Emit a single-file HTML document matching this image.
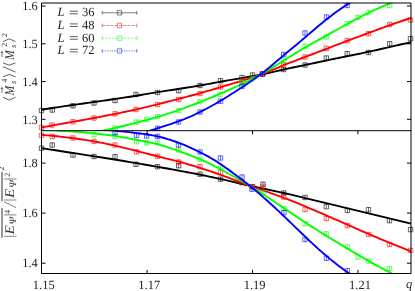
<!DOCTYPE html>
<html><head><meta charset="utf-8"><title>Binder cumulant crossing</title>
<style>html,body{margin:0;padding:0;background:#fff;}body{width:415px;height:291px;overflow:hidden;font-family:"Liberation Serif",serif;}svg{display:block}</style>
</head><body>
<svg width="415" height="291" viewBox="0 0 415 291" style="display:block">
<defs>
<clipPath id="ct"><rect x="41.5" y="3.0" width="369.5" height="127.69999999999999"/></clipPath>
<clipPath id="cb"><rect x="41.5" y="130.7" width="369.5" height="142.8"/></clipPath>
</defs>
<rect width="415" height="291" fill="#fff"/>
<g fill="none" stroke-width="1.9" stroke-linejoin="round">
<path d="M39.3,108.3h4.4v4.4h-4.4zM41.5,108.3v4.4M50.1,107.8h4.4v4.4h-4.4zM52.3,107.8v4.4M70.8,103.6h4.4v4.4h-4.4zM73.0,103.6v4.4M91.8,100.8h4.4v4.4h-4.4zM94.0,100.8v4.4M112.8,98.3h4.4v4.4h-4.4zM115.0,98.3v4.4M133.8,92.3h4.4v4.4h-4.4zM136.0,92.3v4.4M155.3,90.3h4.4v4.4h-4.4zM157.5,90.3v4.4M176.5,88.5h4.4v4.4h-4.4zM178.7,88.5v4.4M197.8,83.3h4.4v4.4h-4.4zM200.0,83.3v4.4M218.3,78.5h4.4v4.4h-4.4zM220.5,78.5v4.4M239.8,75.3h4.4v4.4h-4.4zM242.0,75.3v4.4M250.3,72.8h4.4v4.4h-4.4zM252.5,72.8v4.4M260.3,71.8h4.4v4.4h-4.4zM262.5,71.8v4.4M281.5,67.3h4.4v4.4h-4.4zM283.7,67.3v4.4M302.8,62.8h4.4v4.4h-4.4zM305.0,62.8v4.4M324.1,55.8h4.4v4.4h-4.4zM326.3,55.8v4.4M345.0,51.5h4.4v4.4h-4.4zM347.2,51.5v4.4M366.3,50.3h4.4v4.4h-4.4zM368.5,50.3v4.4M387.5,41.5h4.4v4.4h-4.4zM389.7,41.5v4.4M408.3,36.5h4.4v4.4h-4.4zM410.5,36.5v4.4" stroke="#000" stroke-width="0.6"/>
<path d="M39.3,146.0h4.4v4.4h-4.4zM41.5,146.0v4.4M50.0,142.8h4.4v4.4h-4.4zM52.2,142.8v4.4M70.8,152.8h4.4v4.4h-4.4zM73.0,152.8v4.4M91.8,154.3h4.4v4.4h-4.4zM94.0,154.3v4.4M112.8,154.5h4.4v4.4h-4.4zM115.0,154.5v4.4M133.8,162.0h4.4v4.4h-4.4zM136.0,162.0v4.4M155.3,164.5h4.4v4.4h-4.4zM157.5,164.5v4.4M176.5,163.5h4.4v4.4h-4.4zM178.7,163.5v4.4M197.8,172.0h4.4v4.4h-4.4zM200.0,172.0v4.4M218.3,177.0h4.4v4.4h-4.4zM220.5,177.0v4.4M239.8,180.3h4.4v4.4h-4.4zM242.0,180.3v4.4M250.3,184.5h4.4v4.4h-4.4zM252.5,184.5v4.4M260.8,182.0h4.4v4.4h-4.4zM263.0,182.0v4.4M281.5,190.8h4.4v4.4h-4.4zM283.7,190.8v4.4M302.8,195.3h4.4v4.4h-4.4zM305.0,195.3v4.4M324.1,204.5h4.4v4.4h-4.4zM326.3,204.5v4.4M345.2,208.3h4.4v4.4h-4.4zM347.4,208.3v4.4M366.3,207.5h4.4v4.4h-4.4zM368.5,207.5v4.4M387.3,218.5h4.4v4.4h-4.4zM389.5,218.5v4.4M408.4,227.4h4.4v4.4h-4.4zM410.6,227.4v4.4" stroke="#000" stroke-width="0.6"/>
<path d="M41.5,109.80 L44.6,109.29 L47.7,108.78 L50.8,108.29 L53.9,107.80 L57.0,107.33 L60.1,106.86 L63.2,106.39 L66.3,105.93 L69.4,105.48 L72.6,105.03 L75.7,104.59 L78.8,104.15 L81.9,103.71 L85.0,103.27 L88.1,102.83 L91.2,102.40 L94.3,101.96 L97.4,101.52 L100.5,101.08 L103.6,100.64 L106.7,100.20 L109.8,99.75 L112.9,99.30 L116.0,98.84 L119.1,98.38 L122.2,97.91 L125.3,97.43 L128.4,96.95 L131.5,96.45 L134.7,95.95 L137.8,95.45 L140.9,94.94 L144.0,94.42 L147.1,93.91 L150.2,93.40 L153.3,92.89 L156.4,92.38 L159.5,91.88 L162.6,91.39 L165.7,90.90 L168.8,90.42 L171.9,89.94 L175.0,89.46 L178.1,88.99 L181.2,88.51 L184.3,88.04 L187.4,87.56 L190.5,87.07 L193.6,86.57 L196.8,86.06 L199.9,85.52 L203.0,84.97 L206.1,84.41 L209.2,83.83 L212.3,83.25 L215.4,82.66 L218.5,82.08 L221.6,81.51 L224.7,80.95 L227.8,80.41 L230.9,79.88 L234.0,79.37 L237.1,78.86 L240.2,78.34 L243.3,77.83 L246.4,77.31 L249.5,76.77 L252.6,76.21 L255.7,75.64 L258.9,75.03 L262.0,74.40 L265.1,73.73 L268.2,73.04 L271.3,72.34 L274.4,71.63 L277.5,70.91 L280.6,70.20 L283.7,69.50 L286.8,68.82 L289.9,68.15 L293.0,67.49 L296.1,66.84 L299.2,66.20 L302.3,65.56 L305.4,64.91 L308.5,64.26 L311.6,63.61 L314.7,62.95 L317.8,62.29 L321.0,61.63 L324.1,60.98 L327.2,60.32 L330.3,59.67 L333.4,59.03 L336.5,58.39 L339.6,57.75 L342.7,57.12 L345.8,56.49 L348.9,55.86 L352.0,55.23 L355.1,54.60 L358.2,53.96 L361.3,53.32 L364.4,52.67 L367.5,52.01 L370.6,51.33 L373.7,50.65 L376.8,49.95 L379.9,49.24 L383.1,48.53 L386.2,47.81 L389.3,47.10 L392.4,46.39 L395.5,45.68 L398.6,44.98 L401.7,44.29 L404.8,43.61 L407.9,42.95 L411.0,42.30" stroke="#000" clip-path="url(#ct)"/>
<path d="M41.5,148.20 L44.6,148.65 L47.7,149.11 L50.8,149.58 L53.9,150.05 L57.0,150.52 L60.1,151.00 L63.2,151.48 L66.3,151.96 L69.4,152.44 L72.6,152.93 L75.7,153.42 L78.8,153.91 L81.9,154.39 L85.0,154.88 L88.1,155.37 L91.2,155.86 L94.3,156.34 L97.4,156.83 L100.5,157.31 L103.6,157.80 L106.7,158.28 L109.8,158.77 L112.9,159.27 L116.0,159.77 L119.1,160.27 L122.2,160.78 L125.3,161.30 L128.4,161.82 L131.5,162.34 L134.7,162.87 L137.8,163.40 L140.9,163.93 L144.0,164.46 L147.1,164.99 L150.2,165.53 L153.3,166.07 L156.4,166.61 L159.5,167.15 L162.6,167.69 L165.7,168.24 L168.8,168.80 L171.9,169.36 L175.0,169.92 L178.1,170.49 L181.2,171.07 L184.3,171.65 L187.4,172.24 L190.5,172.84 L193.6,173.44 L196.8,174.05 L199.9,174.67 L203.0,175.30 L206.1,175.93 L209.2,176.57 L212.3,177.22 L215.4,177.88 L218.5,178.56 L221.6,179.24 L224.7,179.94 L227.8,180.66 L230.9,181.37 L234.0,182.10 L237.1,182.82 L240.2,183.54 L243.3,184.26 L246.4,184.97 L249.5,185.66 L252.6,186.35 L255.7,187.02 L258.9,187.69 L262.0,188.35 L265.1,189.00 L268.2,189.66 L271.3,190.31 L274.4,190.97 L277.5,191.64 L280.6,192.31 L283.7,193.00 L286.8,193.70 L289.9,194.41 L293.0,195.14 L296.1,195.87 L299.2,196.61 L302.3,197.35 L305.4,198.10 L308.5,198.86 L311.6,199.61 L314.7,200.36 L317.8,201.12 L321.0,201.87 L324.1,202.63 L327.2,203.38 L330.3,204.14 L333.4,204.89 L336.5,205.64 L339.6,206.39 L342.7,207.14 L345.8,207.89 L348.9,208.64 L352.0,209.38 L355.1,210.13 L358.2,210.88 L361.3,211.62 L364.4,212.37 L367.5,213.12 L370.6,213.87 L373.7,214.62 L376.8,215.37 L379.9,216.13 L383.1,216.88 L386.2,217.64 L389.3,218.39 L392.4,219.15 L395.5,219.91 L398.6,220.67 L401.7,221.43 L404.8,222.18 L407.9,222.94 L411.0,223.70" stroke="#000" clip-path="url(#cb)"/>
<path d="M39.3,125.3h4.4v4.4h-4.4zM41.5,125.3v4.4M49.8,122.8h4.4v4.4h-4.4zM52.0,122.8v4.4M70.8,119.6h4.4v4.4h-4.4zM73.0,119.6v4.4M91.8,115.8h4.4v4.4h-4.4zM94.0,115.8v4.4M112.8,111.6h4.4v4.4h-4.4zM115.0,111.6v4.4M133.8,107.3h4.4v4.4h-4.4zM136.0,107.3v4.4M155.3,102.3h4.4v4.4h-4.4zM157.5,102.3v4.4M176.5,97.3h4.4v4.4h-4.4zM178.7,97.3v4.4M197.8,91.3h4.4v4.4h-4.4zM200.0,91.3v4.4M218.3,84.8h4.4v4.4h-4.4zM220.5,84.8v4.4M239.8,78.5h4.4v4.4h-4.4zM242.0,78.5v4.4M260.3,71.8h4.4v4.4h-4.4zM262.5,71.8v4.4M281.5,62.8h4.4v4.4h-4.4zM283.7,62.8v4.4M302.8,54.8h4.4v4.4h-4.4zM305.0,54.8v4.4M324.1,46.1h4.4v4.4h-4.4zM326.3,46.1v4.4M345.0,38.5h4.4v4.4h-4.4zM347.2,38.5v4.4M366.3,31.5h4.4v4.4h-4.4zM368.5,31.5v4.4M387.5,22.3h4.4v4.4h-4.4zM389.7,22.3v4.4M408.3,17.8h4.4v4.4h-4.4zM410.5,17.8v4.4" stroke="#f00" stroke-width="0.6"/>
<path d="M39.3,133.3h4.4v4.4h-4.4zM41.5,133.3v4.4M50.1,134.3h4.4v4.4h-4.4zM52.3,134.3v4.4M70.8,135.8h4.4v4.4h-4.4zM73.0,135.8v4.4M91.8,139.2h4.4v4.4h-4.4zM94.0,139.2v4.4M112.8,142.8h4.4v4.4h-4.4zM115.0,142.8v4.4M134.4,149.7h4.4v4.4h-4.4zM136.6,149.7v4.4M155.4,154.0h4.4v4.4h-4.4zM157.6,154.0v4.4M176.5,159.8h4.4v4.4h-4.4zM178.7,159.8v4.4M197.8,164.5h4.4v4.4h-4.4zM200.0,164.5v4.4M218.3,170.3h4.4v4.4h-4.4zM220.5,170.3v4.4M239.8,179.8h4.4v4.4h-4.4zM242.0,179.8v4.4M250.3,184.5h4.4v4.4h-4.4zM252.5,184.5v4.4M260.8,184.8h4.4v4.4h-4.4zM263.0,184.8v4.4M281.5,194.8h4.4v4.4h-4.4zM283.7,194.8v4.4M302.8,207.3h4.4v4.4h-4.4zM305.0,207.3v4.4M324.1,216.3h4.4v4.4h-4.4zM326.3,216.3v4.4M345.2,223.4h4.4v4.4h-4.4zM347.4,223.4v4.4M366.5,232.3h4.4v4.4h-4.4zM368.7,232.3v4.4M387.3,242.3h4.4v4.4h-4.4zM389.5,242.3v4.4M408.4,248.2h4.4v4.4h-4.4zM410.6,248.2v4.4" stroke="#f00" stroke-width="0.6"/>
<path d="M41.5,127.50 L44.6,126.91 L47.7,126.33 L50.8,125.76 L53.9,125.19 L57.0,124.63 L60.1,124.08 L63.2,123.53 L66.3,122.98 L69.4,122.43 L72.6,121.88 L75.7,121.33 L78.8,120.78 L81.9,120.22 L85.0,119.66 L88.1,119.10 L91.2,118.53 L94.3,117.95 L97.4,117.36 L100.5,116.76 L103.6,116.16 L106.7,115.55 L109.8,114.93 L112.9,114.32 L116.0,113.70 L119.1,113.07 L122.2,112.44 L125.3,111.80 L128.4,111.15 L131.5,110.48 L134.7,109.80 L137.8,109.10 L140.9,108.38 L144.0,107.64 L147.1,106.89 L150.2,106.13 L153.3,105.36 L156.4,104.58 L159.5,103.80 L162.6,103.02 L165.7,102.23 L168.8,101.44 L171.9,100.65 L175.0,99.85 L178.1,99.05 L181.2,98.25 L184.3,97.44 L187.4,96.62 L190.5,95.79 L193.6,94.96 L196.8,94.10 L199.9,93.24 L203.0,92.36 L206.1,91.46 L209.2,90.56 L212.3,89.64 L215.4,88.72 L218.5,87.80 L221.6,86.87 L224.7,85.95 L227.8,85.03 L230.9,84.10 L234.0,83.17 L237.1,82.23 L240.2,81.29 L243.3,80.34 L246.4,79.38 L249.5,78.39 L252.6,77.37 L255.7,76.32 L258.9,75.22 L262.0,74.07 L265.1,72.86 L268.2,71.62 L271.3,70.34 L274.4,69.05 L277.5,67.76 L280.6,66.47 L283.7,65.20 L286.8,63.96 L289.9,62.74 L293.0,61.54 L296.1,60.35 L299.2,59.18 L302.3,58.01 L305.4,56.84 L308.5,55.66 L311.6,54.49 L314.7,53.31 L317.8,52.12 L321.0,50.93 L324.1,49.74 L327.2,48.55 L330.3,47.36 L333.4,46.17 L336.5,44.98 L339.6,43.79 L342.7,42.61 L345.8,41.43 L348.9,40.26 L352.0,39.10 L355.1,37.95 L358.2,36.80 L361.3,35.65 L364.4,34.51 L367.5,33.36 L370.6,32.21 L373.7,31.06 L376.8,29.91 L379.9,28.76 L383.1,27.61 L386.2,26.48 L389.3,25.36 L392.4,24.25 L395.5,23.15 L398.6,22.07 L401.7,21.02 L404.8,19.99 L407.9,18.98 L411.0,18.00" stroke="#f00" clip-path="url(#ct)"/>
<path d="M41.5,134.80 L44.6,135.08 L47.7,135.37 L50.8,135.67 L53.9,135.98 L57.0,136.30 L60.1,136.64 L63.2,136.99 L66.3,137.36 L69.4,137.74 L72.6,138.14 L75.7,138.56 L78.8,138.99 L81.9,139.44 L85.0,139.91 L88.1,140.41 L91.2,140.92 L94.3,141.45 L97.4,142.00 L100.5,142.58 L103.6,143.18 L106.7,143.81 L109.8,144.46 L112.9,145.13 L116.0,145.83 L119.1,146.56 L122.2,147.31 L125.3,148.08 L128.4,148.86 L131.5,149.65 L134.7,150.45 L137.8,151.25 L140.9,152.06 L144.0,152.86 L147.1,153.66 L150.2,154.46 L153.3,155.25 L156.4,156.02 L159.5,156.79 L162.6,157.55 L165.7,158.31 L168.8,159.07 L171.9,159.84 L175.0,160.63 L178.1,161.45 L181.2,162.29 L184.3,163.16 L187.4,164.05 L190.5,164.97 L193.6,165.92 L196.8,166.88 L199.9,167.85 L203.0,168.85 L206.1,169.86 L209.2,170.88 L212.3,171.93 L215.4,172.99 L218.5,174.08 L221.6,175.19 L224.7,176.33 L227.8,177.48 L230.9,178.64 L234.0,179.82 L237.1,180.99 L240.2,182.17 L243.3,183.34 L246.4,184.50 L249.5,185.64 L252.6,186.76 L255.7,187.87 L258.9,188.97 L262.0,190.05 L265.1,191.14 L268.2,192.22 L271.3,193.31 L274.4,194.41 L277.5,195.52 L280.6,196.65 L283.7,197.80 L286.8,198.97 L289.9,200.18 L293.0,201.40 L296.1,202.64 L299.2,203.91 L302.3,205.19 L305.4,206.48 L308.5,207.79 L311.6,209.11 L314.7,210.43 L317.8,211.77 L321.0,213.11 L324.1,214.46 L327.2,215.81 L330.3,217.16 L333.4,218.51 L336.5,219.87 L339.6,221.22 L342.7,222.58 L345.8,223.95 L348.9,225.32 L352.0,226.69 L355.1,228.06 L358.2,229.43 L361.3,230.79 L364.4,232.15 L367.5,233.49 L370.6,234.83 L373.7,236.16 L376.8,237.47 L379.9,238.77 L383.1,240.07 L386.2,241.35 L389.3,242.62 L392.4,243.89 L395.5,245.14 L398.6,246.39 L401.7,247.63 L404.8,248.86 L407.9,250.08 L411.0,251.30" stroke="#f00" clip-path="url(#cb)"/>
<path d="M112.8,125.8h4.4v4.4h-4.4zM115.0,125.8v4.4M134.4,120.0h4.4v4.4h-4.4zM136.6,120.0v4.4M144.5,117.1h4.4v4.4h-4.4zM146.7,117.1v4.4M155.4,114.5h4.4v4.4h-4.4zM157.6,114.5v4.4M176.5,108.3h4.4v4.4h-4.4zM178.7,108.3v4.4M197.8,99.5h4.4v4.4h-4.4zM200.0,99.5v4.4M217.8,92.3h4.4v4.4h-4.4zM220.0,92.3v4.4M239.8,80.3h4.4v4.4h-4.4zM242.0,80.3v4.4M249.8,76.8h4.4v4.4h-4.4zM252.0,76.8v4.4M281.5,58.3h4.4v4.4h-4.4zM283.7,58.3v4.4M302.8,44.0h4.4v4.4h-4.4zM305.0,44.0v4.4M324.2,34.8h4.4v4.4h-4.4zM326.4,34.8v4.4M345.0,21.5h4.4v4.4h-4.4zM347.2,21.5v4.4M355.8,15.3h4.4v4.4h-4.4zM358.0,15.3v4.4M366.3,10.3h4.4v4.4h-4.4zM368.5,10.3v4.4M387.5,3.3h4.4v4.4h-4.4zM389.7,3.3v4.4" stroke="#0f0" stroke-width="0.6"/>
<path d="M91.8,132.4h4.4v4.4h-4.4zM94.0,132.4v4.4M112.8,134.2h4.4v4.4h-4.4zM115.0,134.2v4.4M134.4,139.5h4.4v4.4h-4.4zM136.6,139.5v4.4M144.5,140.6h4.4v4.4h-4.4zM146.7,140.6v4.4M155.4,140.3h4.4v4.4h-4.4zM157.6,140.3v4.4M176.5,147.8h4.4v4.4h-4.4zM178.7,147.8v4.4M197.8,156.8h4.4v4.4h-4.4zM200.0,156.8v4.4M218.3,166.0h4.4v4.4h-4.4zM220.5,166.0v4.4M260.8,190.8h4.4v4.4h-4.4zM263.0,190.8v4.4M281.7,206.2h4.4v4.4h-4.4zM283.9,206.2v4.4M302.8,221.5h4.4v4.4h-4.4zM305.0,221.5v4.4M324.1,231.6h4.4v4.4h-4.4zM326.3,231.6v4.4M345.2,244.8h4.4v4.4h-4.4zM347.4,244.8v4.4M355.8,254.8h4.4v4.4h-4.4zM358.0,254.8v4.4M366.5,258.8h4.4v4.4h-4.4zM368.7,258.8v4.4M387.3,266.4h4.4v4.4h-4.4zM389.5,266.4v4.4" stroke="#0f0" stroke-width="0.6"/>
<path d="M41.5,136.50 L44.6,136.38 L47.7,136.24 L50.8,136.06 L53.9,135.87 L57.0,135.64 L60.1,135.40 L63.2,135.14 L66.3,134.86 L69.4,134.56 L72.6,134.25 L75.7,133.92 L78.8,133.58 L81.9,133.23 L85.0,132.87 L88.1,132.51 L91.2,132.14 L94.3,131.77 L97.4,131.38 L100.5,130.96 L103.6,130.47 L106.7,129.88 L109.8,129.22 L112.9,128.50 L116.0,127.75 L119.1,127.01 L122.2,126.25 L125.3,125.49 L128.4,124.72 L131.5,123.94 L134.7,123.15 L137.8,122.34 L140.9,121.53 L144.0,120.70 L147.1,119.86 L150.2,119.00 L153.3,118.12 L156.4,117.23 L159.5,116.31 L162.6,115.37 L165.7,114.41 L168.8,113.43 L171.9,112.42 L175.0,111.38 L178.1,110.30 L181.2,109.20 L184.3,108.06 L187.4,106.90 L190.5,105.71 L193.6,104.51 L196.8,103.29 L199.9,102.06 L203.0,100.82 L206.1,99.57 L209.2,98.31 L212.3,97.04 L215.4,95.75 L218.5,94.45 L221.6,93.13 L224.7,91.80 L227.8,90.44 L230.9,89.07 L234.0,87.67 L237.1,86.25 L240.2,84.80 L243.3,83.33 L246.4,81.83 L249.5,80.29 L252.6,78.72 L255.7,77.10 L258.9,75.43 L262.0,73.71 L265.1,71.93 L268.2,70.11 L271.3,68.26 L274.4,66.37 L277.5,64.46 L280.6,62.54 L283.7,60.60 L286.8,58.67 L289.9,56.74 L293.0,54.82 L296.1,52.92 L299.2,51.04 L302.3,49.18 L305.4,47.35 L308.5,45.56 L311.6,43.79 L314.7,42.04 L317.8,40.31 L321.0,38.59 L324.1,36.88 L327.2,35.15 L330.3,33.42 L333.4,31.69 L336.5,29.96 L339.6,28.23 L342.7,26.50 L345.8,24.78 L348.9,23.07 L352.0,21.37 L355.1,19.69 L358.2,18.04 L361.3,16.41 L364.4,14.82 L367.5,13.28 L370.6,11.77 L373.7,10.31 L376.8,8.90 L379.9,7.53 L383.1,6.20 L386.2,4.92 L389.3,3.67 L392.4,2.47 L395.5,1.30 L398.6,0.17 L401.7,-0.93 L404.8,-1.98 L407.9,-3.01 L411.0,-4.00" stroke="#0f0" clip-path="url(#ct)"/>
<path d="M41.5,129.50 L44.6,129.73 L47.7,129.94 L50.8,130.15 L53.9,130.35 L57.0,130.55 L60.1,130.75 L63.2,130.94 L66.3,131.14 L69.4,131.35 L72.6,131.57 L75.7,131.80 L78.8,132.04 L81.9,132.29 L85.0,132.55 L88.1,132.83 L91.2,133.12 L94.3,133.43 L97.4,133.75 L100.5,134.08 L103.6,134.44 L106.7,134.82 L109.8,135.24 L112.9,135.68 L116.0,136.16 L119.1,136.68 L122.2,137.23 L125.3,137.80 L128.4,138.38 L131.5,138.96 L134.7,139.55 L137.8,140.12 L140.9,140.69 L144.0,141.27 L147.1,141.87 L150.2,142.50 L153.3,143.18 L156.4,143.92 L159.5,144.73 L162.6,145.61 L165.7,146.56 L168.8,147.56 L171.9,148.60 L175.0,149.68 L178.1,150.79 L181.2,151.92 L184.3,153.07 L187.4,154.24 L190.5,155.44 L193.6,156.67 L196.8,157.94 L199.9,159.24 L203.0,160.59 L206.1,161.98 L209.2,163.42 L212.3,164.93 L215.4,166.50 L218.5,168.13 L221.6,169.81 L224.7,171.53 L227.8,173.28 L230.9,175.03 L234.0,176.78 L237.1,178.51 L240.2,180.24 L243.3,181.99 L246.4,183.77 L249.5,185.60 L252.6,187.49 L255.7,189.44 L258.9,191.43 L262.0,193.45 L265.1,195.49 L268.2,197.54 L271.3,199.61 L274.4,201.70 L277.5,203.79 L280.6,205.89 L283.7,208.00 L286.8,210.10 L289.9,212.21 L293.0,214.31 L296.1,216.40 L299.2,218.48 L302.3,220.54 L305.4,222.58 L308.5,224.60 L311.6,226.60 L314.7,228.57 L317.8,230.53 L321.0,232.48 L324.1,234.40 L327.2,236.32 L330.3,238.22 L333.4,240.11 L336.5,241.99 L339.6,243.86 L342.7,245.72 L345.8,247.58 L348.9,249.43 L352.0,251.28 L355.1,253.12 L358.2,254.94 L361.3,256.76 L364.4,258.55 L367.5,260.33 L370.6,262.09 L373.7,263.83 L376.8,265.55 L379.9,267.25 L383.1,268.93 L386.2,270.58 L389.3,272.21 L392.4,273.82 L395.5,275.41 L398.6,276.97 L401.7,278.52 L404.8,280.03 L407.9,281.53 L411.0,283.00" stroke="#0f0" clip-path="url(#cb)"/>
<path d="M155.4,126.1h4.4v4.4h-4.4zM157.6,126.1v4.4M176.3,119.8h4.4v4.4h-4.4zM178.5,119.8v4.4M197.8,109.8h4.4v4.4h-4.4zM200.0,109.8v4.4M218.3,99.0h4.4v4.4h-4.4zM220.5,99.0v4.4M239.8,84.0h4.4v4.4h-4.4zM242.0,84.0v4.4M260.3,71.8h4.4v4.4h-4.4zM262.5,71.8v4.4M281.5,52.3h4.4v4.4h-4.4zM283.7,52.3v4.4M302.8,30.8h4.4v4.4h-4.4zM305.0,30.8v4.4M324.3,14.8h4.4v4.4h-4.4zM326.5,14.8v4.4M345.0,3.3h4.4v4.4h-4.4zM347.2,3.3v4.4" stroke="#00f" stroke-width="0.6"/>
<path d="M112.8,130.4h4.4v4.4h-4.4zM115.0,130.4v4.4M134.4,133.3h4.4v4.4h-4.4zM136.6,133.3v4.4M144.5,133.8h4.4v4.4h-4.4zM146.7,133.8v4.4M155.4,134.2h4.4v4.4h-4.4zM157.6,134.2v4.4M176.3,142.8h4.4v4.4h-4.4zM178.5,142.8v4.4M197.8,149.8h4.4v4.4h-4.4zM200.0,149.8v4.4M218.3,155.8h4.4v4.4h-4.4zM220.5,155.8v4.4M239.8,174.8h4.4v4.4h-4.4zM242.0,174.8v4.4M249.8,187.0h4.4v4.4h-4.4zM252.0,187.0v4.4M281.7,210.5h4.4v4.4h-4.4zM283.9,210.5v4.4M302.8,237.3h4.4v4.4h-4.4zM305.0,237.3v4.4M324.2,256.0h4.4v4.4h-4.4zM326.4,256.0v4.4M345.2,268.4h4.4v4.4h-4.4zM347.4,268.4v4.4" stroke="#00f" stroke-width="0.6"/>
<path d="M41.5,141.00 L44.2,140.89 L47.0,140.78 L49.7,140.67 L52.5,140.56 L55.2,140.46 L58.0,140.35 L60.7,140.24 L63.5,140.13 L66.2,140.02 L69.0,139.90 L71.7,139.78 L74.5,139.66 L77.2,139.52 L80.0,139.38 L82.7,139.23 L85.5,139.07 L88.2,138.90 L91.0,138.72 L93.7,138.52 L96.5,138.31 L99.2,138.09 L102.0,137.86 L104.7,137.60 L107.4,137.33 L110.2,137.05 L112.9,136.74 L115.7,136.42 L118.4,136.07 L121.2,135.71 L123.9,135.33 L126.7,134.93 L129.4,134.52 L132.2,134.10 L134.9,133.67 L137.7,133.23 L140.4,132.77 L143.2,132.26 L145.9,131.69 L148.7,131.04 L151.4,130.28 L154.2,129.41 L156.9,128.50 L159.7,127.59 L162.4,126.71 L165.2,125.83 L167.9,124.96 L170.7,124.07 L173.4,123.16 L176.1,122.22 L178.9,121.23 L181.6,120.19 L184.4,119.09 L187.1,117.95 L189.9,116.76 L192.6,115.52 L195.4,114.24 L198.1,112.92 L200.9,111.56 L203.6,110.16 L206.4,108.73 L209.1,107.26 L211.9,105.75 L214.6,104.21 L217.4,102.64 L220.1,101.03 L222.9,99.39 L225.6,97.72 L228.4,96.02 L231.1,94.29 L233.9,92.55 L236.6,90.78 L239.3,89.00 L242.1,87.21 L244.8,85.40 L247.6,83.58 L250.3,81.72 L253.1,79.82 L255.8,77.87 L258.6,75.86 L261.3,73.78 L264.1,71.64 L266.8,69.44 L269.6,67.19 L272.3,64.91 L275.1,62.60 L277.8,60.28 L280.6,57.95 L283.3,55.62 L286.1,53.32 L288.8,51.02 L291.6,48.74 L294.3,46.45 L297.1,44.17 L299.8,41.88 L302.6,39.57 L305.3,37.25 L308.0,34.90 L310.8,32.55 L313.5,30.19 L316.3,27.85 L319.0,25.52 L321.8,23.23 L324.5,20.98 L327.3,18.78 L330.0,16.64 L332.8,14.56 L335.5,12.53 L338.3,10.56 L341.0,8.64 L343.8,6.77 L346.5,4.95 L349.3,3.17 L352.0,1.45 L354.8,-0.23 L357.5,-1.87 L360.3,-3.46 L363.0,-5.01 L365.8,-6.53 L368.5,-8.00" stroke="#00f" clip-path="url(#ct)"/>
<path d="M41.5,127.00 L44.2,127.26 L47.0,127.49 L49.7,127.69 L52.5,127.88 L55.2,128.05 L58.0,128.20 L60.7,128.34 L63.4,128.47 L66.2,128.58 L68.9,128.68 L71.7,128.78 L74.4,128.87 L77.2,128.95 L79.9,129.04 L82.7,129.12 L85.4,129.20 L88.1,129.29 L90.9,129.39 L93.6,129.49 L96.4,129.60 L99.1,129.72 L101.9,129.85 L104.6,129.99 L107.3,130.16 L110.1,130.34 L112.8,130.54 L115.6,130.76 L118.3,131.01 L121.1,131.28 L123.8,131.56 L126.6,131.87 L129.3,132.18 L132.0,132.51 L134.8,132.85 L137.5,133.19 L140.3,133.54 L143.0,133.91 L145.8,134.30 L148.5,134.72 L151.2,135.18 L154.0,135.68 L156.7,136.24 L159.5,136.85 L162.2,137.52 L165.0,138.26 L167.7,139.05 L170.5,139.90 L173.2,140.81 L175.9,141.77 L178.7,142.79 L181.4,143.87 L184.2,144.99 L186.9,146.16 L189.7,147.38 L192.4,148.64 L195.1,149.93 L197.9,151.26 L200.6,152.62 L203.4,154.01 L206.1,155.44 L208.9,156.92 L211.6,158.48 L214.4,160.10 L217.1,161.82 L219.8,163.62 L222.6,165.48 L225.3,167.41 L228.1,169.37 L230.8,171.38 L233.6,173.40 L236.3,175.43 L239.0,177.47 L241.8,179.54 L244.5,181.64 L247.3,183.77 L250.0,185.96 L252.8,188.19 L255.5,190.48 L258.3,192.81 L261.0,195.18 L263.7,197.59 L266.5,200.04 L269.2,202.51 L272.0,205.01 L274.7,207.54 L277.5,210.10 L280.2,212.68 L282.9,215.28 L285.7,217.90 L288.4,220.54 L291.2,223.18 L293.9,225.83 L296.7,228.48 L299.4,231.13 L302.2,233.77 L304.9,236.40 L307.6,239.01 L310.4,241.60 L313.1,244.15 L315.9,246.68 L318.6,249.17 L321.4,251.61 L324.1,254.00 L326.8,256.34 L329.6,258.63 L332.3,260.86 L335.1,263.03 L337.8,265.16 L340.6,267.24 L343.3,269.27 L346.1,271.26 L348.8,273.22 L351.5,275.13 L354.3,277.01 L357.0,278.86 L359.8,280.69 L362.5,282.48 L365.3,284.25 L368.0,286.00" stroke="#00f" clip-path="url(#cb)"/>
</g>
<g fill="none" stroke="#000" stroke-width="1">
<path d="M41.5,3.0H411.0V273.5H41.5zM41.5,130.7H411.0"/>
<path d="M41.5,6h4M411.0,6h-4M41.5,43.8h4M411.0,43.8h-4M41.5,81.6h4M411.0,81.6h-4M41.5,119.3h4M411.0,119.3h-4M41.5,163.1h4M411.0,163.1h-4M41.5,213.1h4M411.0,213.1h-4M41.5,263.2h4M411.0,263.2h-4M147.1,273.5v-3.6M147.1,130.7v3.6M252.5,273.5v-3.6M252.5,130.7v3.6M357.9,273.5v-3.6M357.9,130.7v3.6" stroke-width="1"/>
</g></svg>
<svg width="415" height="291" viewBox="0 0 415 291" style="position:absolute;left:0;top:0;will-change:transform">
<g font-family="Liberation Serif, serif" font-size="12.5" fill="#222" text-rendering="geometricPrecision">
<g text-anchor="end">
<text x="37.8" y="10.2" textLength="15.5" lengthAdjust="spacingAndGlyphs">1.6</text>
<text x="37.8" y="48" textLength="15.5" lengthAdjust="spacingAndGlyphs">1.5</text>
<text x="37.8" y="85.8" textLength="15.5" lengthAdjust="spacingAndGlyphs">1.4</text>
<text x="37.8" y="123.5" textLength="15.5" lengthAdjust="spacingAndGlyphs">1.3</text>
<text x="37.8" y="167.3" textLength="15.5" lengthAdjust="spacingAndGlyphs">1.8</text>
<text x="37.8" y="217.3" textLength="15.5" lengthAdjust="spacingAndGlyphs">1.6</text>
<text x="37.8" y="267.4" textLength="15.5" lengthAdjust="spacingAndGlyphs">1.4</text>
</g>
<g text-anchor="middle">
<text x="43.8" y="289.1">1.15</text>
<text x="149.2" y="289.1">1.17</text>
<text x="254.6" y="289.1">1.19</text>
<text x="360" y="289.1">1.21</text>
</g>
<text x="406" y="287.7" font-style="italic">q</text>
<!-- legend text -->
<g>
<text x="57.6" y="16.1" font-style="italic">L</text><text x="82" y="16.1">36</text>
<text x="57.6" y="28.8" font-style="italic">L</text><text x="82" y="28.8">48</text>
<text x="57.6" y="41.5" font-style="italic">L</text><text x="82" y="41.5">60</text>
<text x="57.6" y="54.2" font-style="italic">L</text><text x="82" y="54.2">72</text>
<path d="M69.8,11.2h8M69.8,13.8h8M69.8,23.9h8M69.8,26.5h8M69.8,36.6h8M69.8,39.2h8M69.8,49.3h8M69.8,51.9h8" stroke="#1a1a1a" stroke-width="0.7" fill="none"/>
</g>
<!-- top y label -->
<g transform="translate(13.5,100.5) rotate(-90)" fill="#333">
<path d="M3.3,-10.5L0.4,-4.25L3.3,2M23.7,-10.5L26.1,-4.25L23.7,2M28.5,2L33.8,-10.5M37.6,-10.5L35.3,-4.25L37.6,2M58.8,-10.5L61.7,-4.25L58.8,2" stroke="#1a1a1a" stroke-width="0.7" fill="none"/>
<path d="M7.5,-11.5h5.5m-1.6,-1.2l1.6,1.2l-1.6,1.2M43.5,-11.5h5.5m-1.6,-1.2l1.6,1.2l-1.6,1.2" stroke="#1a1a1a" stroke-width="0.6" fill="none"/>
<text transform="translate(4.9,0) scale(0.88,1)" font-size="13.4" font-style="italic">M</text>
<text x="17.8" y="-6.8" font-size="8">4</text>
<text x="16.6" y="2.6" font-size="8.5" font-style="italic">s</text>
<text transform="translate(40.6,0) scale(0.88,1)" font-size="13.4" font-style="italic">M</text>
<text x="53.8" y="-6.8" font-size="8">2</text>
<text x="52.6" y="2.6" font-size="8.5" font-style="italic">s</text>
<text x="63.4" y="-6.7" font-size="8">2</text>
</g>
<!-- bottom y label -->
<g transform="translate(14,238) rotate(-90)" fill="#333">
<path d="M0.2,-12H30.1M36.7,-12H66.3" stroke="#444" stroke-width="1.1" fill="none"/>
<path d="M1.7,-10V2.5M23.1,-10V2.5M38,-10V2.5M59,-10V2.5M30.4,2L36.2,-10" stroke="#333" stroke-width="0.6" fill="none"/>
<text transform="translate(3.6,0) scale(1.16,1)" font-size="13.2" font-style="italic">E</text>
<text transform="translate(13.4,2.3) scale(1.12,1)" font-size="9.6" font-style="italic">Ψ</text>
<text x="24" y="-4.5" font-size="8">4</text>
<text transform="translate(40,0) scale(1.16,1)" font-size="13.2" font-style="italic">E</text>
<text transform="translate(50.2,2.3) scale(1.12,1)" font-size="9.6" font-style="italic">Ψ</text>
<text x="61.3" y="-4.2" font-size="8">2</text>
<text x="67.4" y="-10" font-size="8">2</text>
</g>
</g>
<!-- legend samples -->
<g fill="none" stroke-width="0.5">
<path d="M102.2,12.8H136.8M102.2,10.9v3.8M136.8,10.9v3.8M117.3,10.6h4.4v4.4h-4.4z" stroke="#000"/>
<path d="M102.2,25.5H136.8" stroke="#f00" stroke-dasharray="3 1.2"/>
<path d="M102.2,23.6v3.8M136.8,23.6v3.8M117.3,23.3h4.4v4.4h-4.4z" stroke="#f00"/>
<path d="M102.2,38.2H136.8" stroke="#0f0" stroke-dasharray="1.9 1.3"/>
<path d="M102.2,36.3v3.8M136.8,36.3v3.8M117.3,36h4.4v4.4h-4.4z" stroke="#0f0"/>
<path d="M102.2,50.9H136.8" stroke="#00f" stroke-dasharray="1.4 1"/>
<path d="M102.2,49v3.8M136.8,49v3.8M117.3,48.7h4.4v4.4h-4.4z" stroke="#00f"/>
</g>
</svg>
</body></html>
